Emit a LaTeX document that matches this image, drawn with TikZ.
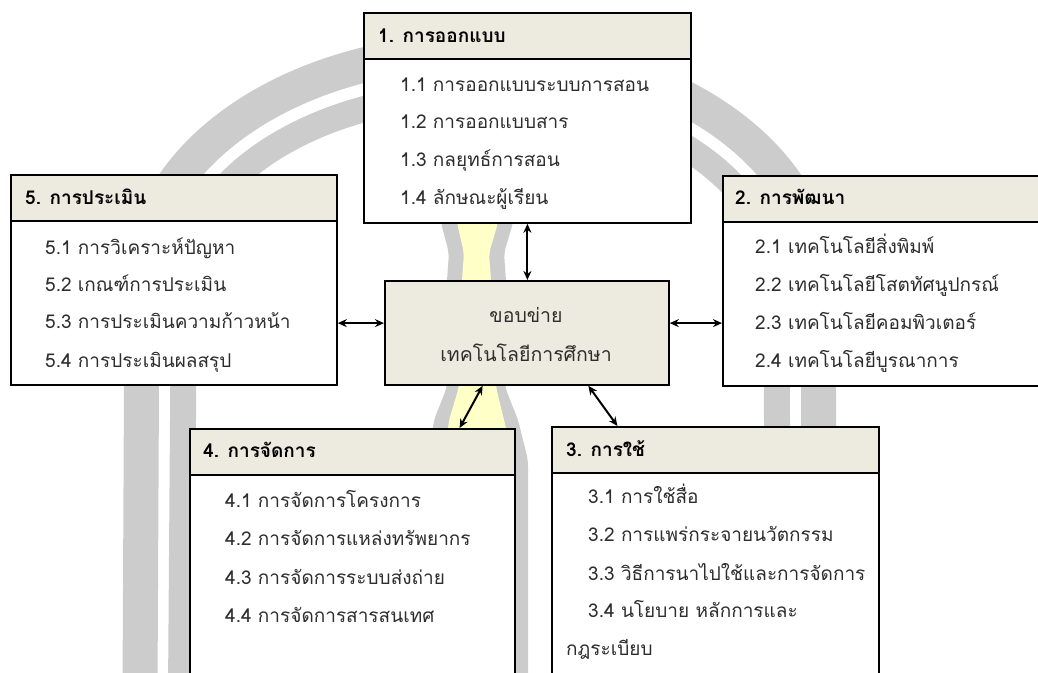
\documentclass[tikz,border=0pt]{standalone}
\usepackage{fontspec}
\newfontfamily\thai[Script=Thai]{Loma}
\usetikzlibrary{arrows.meta,calc}
\definecolor{hdrfill}{RGB}{237,234,224}
\definecolor{wmgray}{RGB}{204,204,204}
\definecolor{wmyellow}{RGB}{255,255,200}
\definecolor{txtgray}{RGB}{45,45,45}
\tikzset{
  hdr/.style={draw=black, line width=1.8pt, fill=hdrfill, inner sep=0pt, anchor=north west},
  bod/.style={draw=black, line width=1.8pt, fill=white, inner sep=0pt, anchor=north west},
  itm/.style={anchor=base west, inner sep=0pt, text=txtgray, font=\thai\fontsize{19}{21}\selectfont},
  hd/.style={anchor=base west, inner sep=0pt, text=black, font=\thai\bfseries\fontsize{19}{21}\selectfont},
  ctr/.style={anchor=base, inner sep=0pt, text=txtgray, font=\thai\fontsize{19.5}{21}\selectfont},
  arr/.style={{Stealth[length=9pt,width=8pt]}-{Stealth[length=9pt,width=8pt]}, line width=2pt, black},
  band/.style={draw=wmgray}
}
\begin{document}
\begin{tikzpicture}[x=1pt,y=1pt]
\useasboundingbox (0,0) rectangle (1038,672);
\fill[white] (0,0) rectangle (1038,672);
\clip (0,0) rectangle (1038,672);
% watermark arches
\draw[band, line width=35pt] (140,-20) -- (142,390) arc[start angle=180, end angle=0, x radius=338, y radius=231] -- (820,-20);
\draw[band, line width=26pt] (181,-20) -- (184,388) arc[start angle=180, end angle=0, x radius=296, y radius=190] -- (779,-20);
% watermark torch
\fill[wmgray, rounded corners=6pt] (438,480) -- (441,449) -- (449,419) -- (447,392) -- (447,285) -- (434,252) -- (428,212) -- (428,-20) -- (528,-20) -- (528,212) -- (518,252) -- (505,285) -- (506,392) -- (504,419) -- (513,449) -- (516,480) -- cycle;
\fill[wmyellow, rounded corners=6pt] (455,480) -- (457,449) -- (464,419) -- (462,392) -- (459,285) -- (449,252) -- (444,212) -- (444,-20) -- (514,-20) -- (514,212) -- (504,252) -- (496,285) -- (491,392) -- (489,419) -- (498,449) -- (500,480) -- cycle;

% box 1
\node[bod, minimum width=327pt, minimum height=164pt] (b1) at (363,614) {};
\node[hdr, minimum width=327pt, minimum height=46pt] (h1) at (363,660) {};
\node[hd] (t1) at (378,629) {1. การออกแบบ};
\node[itm] (t11) at (400,580) {1.1 การออกแบบระบบการสอน};
\node[itm] (t12) at (400,543) {1.2 การออกแบบสาร};
\node[itm] (t13) at (400,505) {1.3 กลยุทธ์การสอน};
\node[itm] (t14) at (400,467) {1.4 ลักษณะผู้เรียน};

% box 5
\node[bod, minimum width=326pt, minimum height=164pt] (b5) at (10,452) {};
\node[hdr, minimum width=326pt, minimum height=46pt] (h5) at (10,498) {};
\node[hd] (t5) at (25,467) {5. การประเมิน};
\node[itm] (t51) at (45,417) {5.1 การวิเคราะห์ปัญหา};
\node[itm] (t52) at (45,380) {5.2 เกณฑ์การประเมิน};
\node[itm] (t53) at (45,343) {5.3 การประเมินความก้าวหน้า};
\node[itm] (t54) at (45,304) {5.4 การประเมินผลสรุป};

% box 2
\node[bod, minimum width=330pt, minimum height=164pt] (b2) at (722,451) {};
\node[hdr, minimum width=330pt, minimum height=46pt] (h2) at (722,497) {};
\node[hd] (t2) at (735,467) {2. การพัฒนา};
\node[itm] (t21) at (755,418) {2.1 เทคโนโลยีสิ่งพิมพ์};
\node[itm] (t22) at (755,380) {2.2 เทคโนโลยีโสตทัศนูปกรณ์};
\node[itm] (t23) at (755,342) {2.3 เทคโนโลยีคอมพิวเตอร์};
\node[itm] (t24) at (755,304) {2.4 เทคโนโลยีบูรณาการ};

% centre
\node[hdr, minimum width=284pt, minimum height=104pt] (c) at (384,392) {};
\node[ctr] (tc1) at (526,349) {ขอบข่าย};
\node[ctr] (tc2) at (526,310) {เทคโนโลยีการศึกษา};

% box 4
\node[bod, minimum width=325pt, minimum height=220pt] (b4) at (189,198) {};
\node[hdr, minimum width=325pt, minimum height=46pt] (h4) at (189,244) {};
\node[hd] (t4) at (203,214) {4. การจัดการ};
\node[itm] (t41) at (225,164) {4.1 การจัดการโครงการ};
\node[itm] (t42) at (225,126) {4.2 การจัดการแหล่งทรัพยากร};
\node[itm] (t43) at (225,88) {4.3 การจัดการระบบส่งถ่าย};
\node[itm] (t44) at (225,50) {4.4 การจัดการสารสนเทศ};

% box 3
\node[bod, minimum width=327pt, minimum height=220pt] (b3) at (551,200) {};
\node[hdr, minimum width=327pt, minimum height=46pt] (h3) at (551,246) {};
\node[hd] (t3) at (566,215) {3. การใช้};
\node[itm] (t31) at (588,168) {3.1 การใช้สื่อ};
\node[itm] (t32) at (588,130) {3.2 การแพร่กระจายนวัตกรรม};
\node[itm] (t33) at (588,92) {3.3 วิธีการนาไปใช้และการจัดการ};
\node[itm] (t34) at (588,55) {3.4 นโยบาย หลักการและ};
\node[itm] (t35) at (566,17) {กฎระเบียบ};

% connectors
\coordinate (l5) at ($(b5.south east)!0.378!(b5.north east)$);
\draw[arr] (b1.south) -- (b1.south |- c.north);
\draw[arr] (l5) -- (l5 -| c.west);
\draw[arr] (l5 -| c.east) -- (l5 -| b2.west);
\draw[arr] ($(c.south west)!0.345!(c.south east)$) -- ($(h4.north west)!0.828!(h4.north east)$);
\draw[arr] ($(c.south west)!0.715!(c.south east)$) -- ($(h3.north west)!0.202!(h3.north east)$);
\end{tikzpicture}
\end{document}
